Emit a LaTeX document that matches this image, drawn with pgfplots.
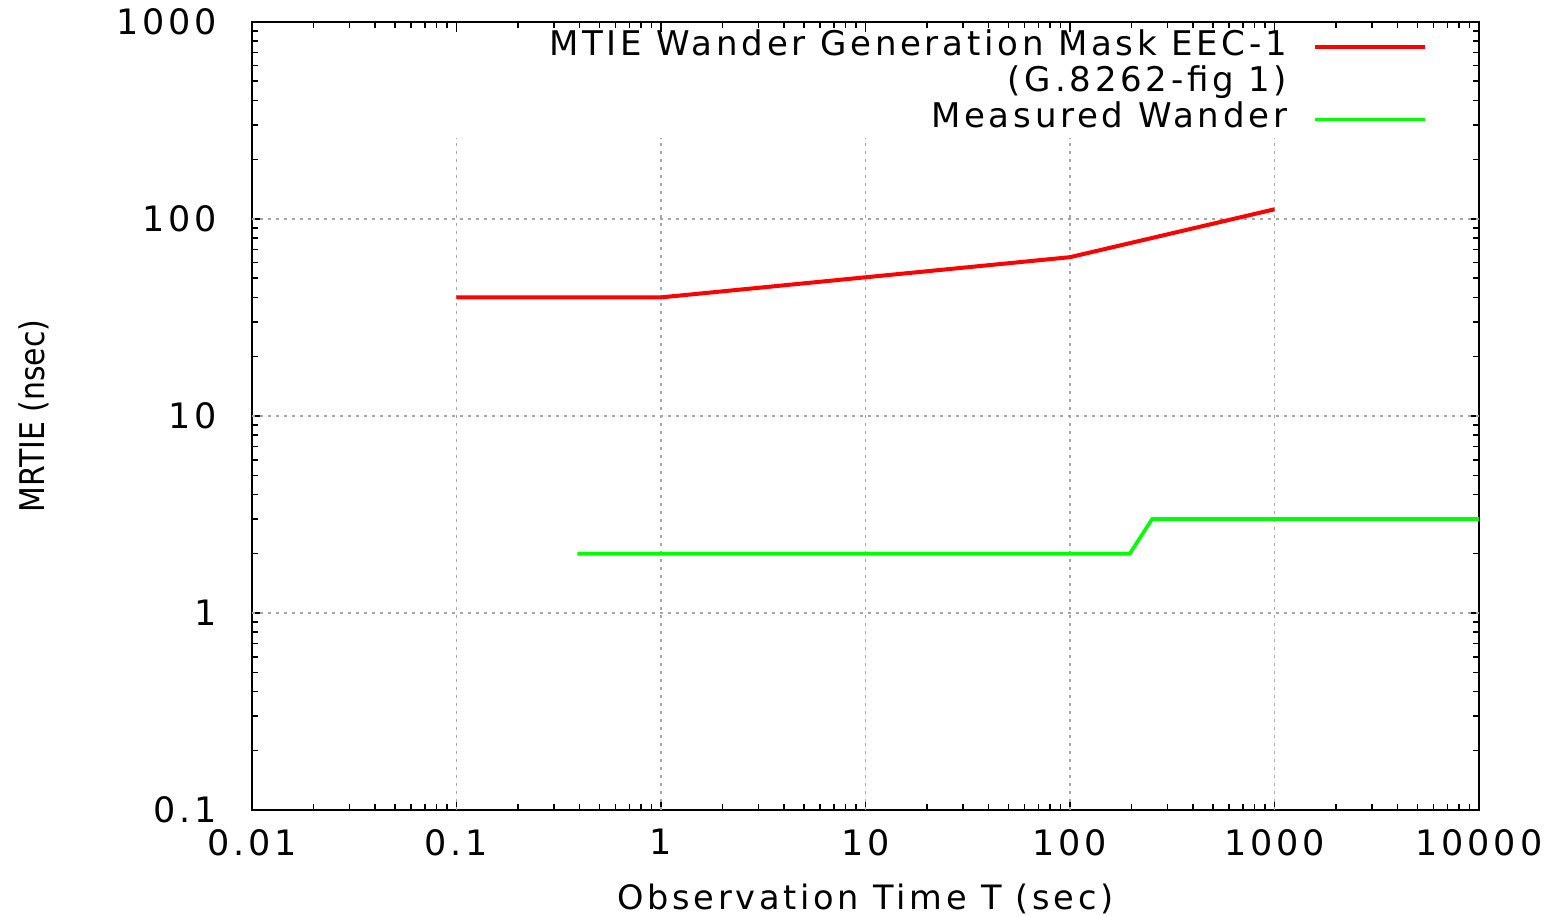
\documentclass[border=0pt]{standalone}
\usepackage{fontspec}
\setmainfont{DejaVu Sans}[LetterSpace=11]
\newfontfamily\plainfont{DejaVu Sans}
\usepackage{pgfplots}
\pgfplotsset{compat=1.18}
\begin{document}
\begin{tikzpicture}
\path[use as bounding box] (0,0) rectangle (775.5pt,457.5pt);
\begin{axis}[
  at={(126pt,52.5pt)}, anchor=south west,
  scale only axis, width=613.5pt, height=394pt,
  xmode=log, ymode=log,
  xmin=0.01, xmax=10000, ymin=0.1, ymax=1000,
  xtick={0.01,0.1,1,10,100,1000,10000},
  xticklabels={0.01,0.1,1,10,100,1000,10000},
  ytick={0.1,1,10,100,1000},
  yticklabels={0.1,1,10,100,1000},
  tick align=inside,
  major tick length=5pt, minor tick length=3pt,
  every tick/.style={black, line width=0.8pt},
  axis line style={line width=1pt},
  ticklabel style={font=\fontsize{17.5}{20}\selectfont},
  xticklabel style={yshift=-6pt},
  yticklabel style={xshift=-14pt},
  xlabel={Observation Time T (sec)},
  ylabel={\scalebox{0.88}[1]{MRTIE (nsec)}},
  every axis x label/.style={at={(axis description cs:0.5,-0.113)}, anchor=center,
    font=\fontsize{16.8}{20}\selectfont},
  every axis y label/.style={at={(axis description cs:-0.1777,0.5)}, anchor=center, rotate=90,
    font=\plainfont\fontsize{17}{20}\selectfont},
  legend plot pos=right,
  legend cell align=right,
  legend image code/.code={\draw[#1] (0pt,0pt) -- (55pt,0pt);},
  legend style={at={(axis description cs:0.958,0.991)}, anchor=north east,
    draw=none, fill=none, inner sep=0pt, row sep=0pt,
    font=\fontsize{17}{19}\selectfont,
    nodes={inner sep=1pt, text height=12pt, text depth=4pt},
    /tikz/column sep=12pt},
]
\tikzset{gridl/.style={gray!70, line width=0.7pt, dash pattern=on 1.5pt off 2.5pt}}
\draw[gridl] (axis cs:0.1,0.1) -- (axis cs:0.1,258);
\draw[gridl] (axis cs:1,0.1) -- (axis cs:1,258);
\draw[gridl] (axis cs:10,0.1) -- (axis cs:10,258);
\draw[gridl] (axis cs:100,0.1) -- (axis cs:100,258);
\draw[gridl] (axis cs:1000,0.1) -- (axis cs:1000,258);
\draw[gridl] (axis cs:0.01,1) -- (axis cs:10000,1);
\draw[gridl] (axis cs:0.01,10) -- (axis cs:10000,10);
\draw[gridl] (axis cs:0.01,100) -- (axis cs:10000,100);
\addplot[red, line width=2pt] coordinates {(0.1,40) (1,40) (100,64) (1000,112)};
\addlegendentry{MTIE Wander Generation Mask EEC-1}
\addlegendimage{empty legend}
\addlegendentry{(G.8262-fig 1)}
\addplot[green, line width=1.8pt] coordinates {(0.39,2) (196,2) (252,3) (10000,3)};
\addlegendentry{Measured Wander}
\end{axis}
\end{tikzpicture}
\end{document}
